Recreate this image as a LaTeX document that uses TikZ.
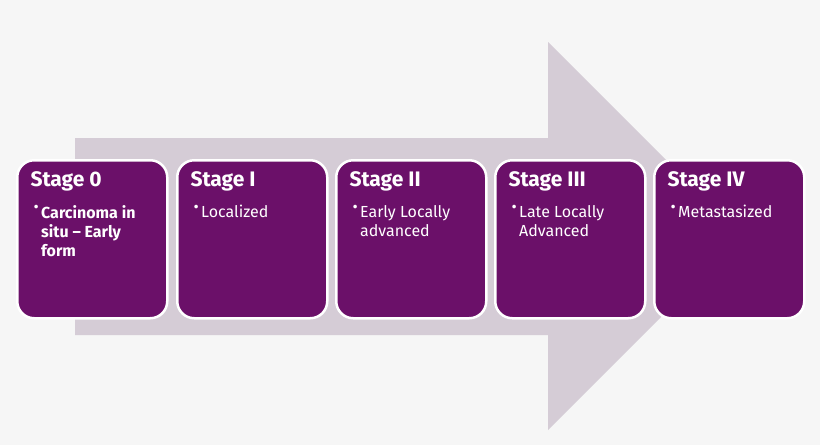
\documentclass[tikz,border=0pt]{standalone}
\usepackage{fontspec}
\setmainfont{Fira Sans}
\begin{document}
\begin{tikzpicture}[x=1pt,y=-1pt,
  stage/.style={draw=white,line width=2.5pt,fill=stagefill,rounded corners=17pt,minimum width=150pt,minimum height=158pt,anchor=north west,inner sep=0pt},
  ttl/.style={anchor=north west,text=white,font=\fontsize{21}{24}\selectfont\bfseries},
  body/.style={anchor=north west,text=white,font=\fontsize{16}{19}\selectfont,align=left,inner sep=0pt}]
\definecolor{stagefill}{HTML}{6B1069}
\definecolor{arrowfill}{HTML}{D5CCD6}
\definecolor{bg}{HTML}{F6F6F6}
\fill[bg] (0,0) rectangle (820,445);
\useasboundingbox (0,0) rectangle (820,445);
\fill[arrowfill] (75,138) -- (548,138) -- (548,42) -- (742,236) -- (548,430) -- (548,335) -- (75,335) -- cycle;
\foreach \i/\x/\t/\b in {0/16/Stage 0/{\textbf{Carcinoma in}\\\textbf{situ – Early}\\\textbf{form}},1/176/Stage I/{Localized},2/335/Stage II/{Early Locally\\advanced},3/494/Stage III/{Late Locally\\Advanced},4/653/Stage IV/{Metastasized}}{
  \node[stage] (s\i) at (\x,159) {};
  \node[ttl] (t\i) at ([xshift=11pt,yshift=-9pt]s\i.north west) {\t};
  \node[body] (b\i) at ([xshift=25pt,yshift=-46pt]s\i.north west) {\b};
  \node[anchor=north east,text=white,font=\fontsize{16}{19}\selectfont,inner sep=0pt] (d\i) at ([xshift=-2pt]b\i.north west) {•};
}
\end{tikzpicture}
\end{document}
